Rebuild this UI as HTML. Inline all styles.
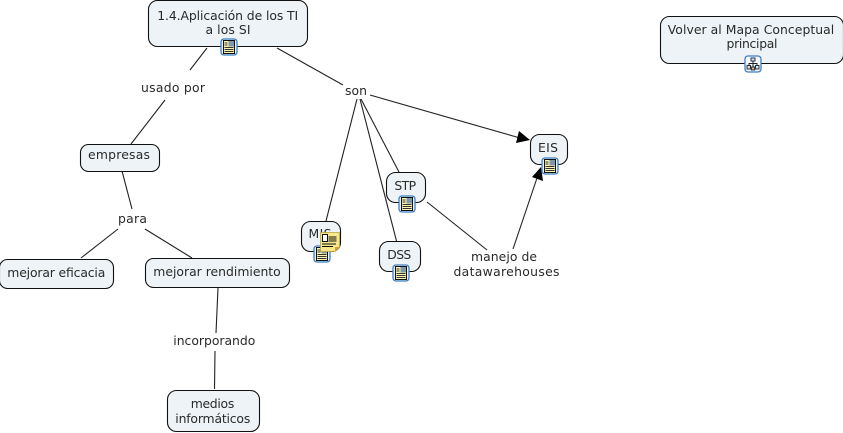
<!DOCTYPE html>
<html>
<head>
<meta charset="utf-8">
<style>
html,body{margin:0;padding:0;background:#fff;width:843px;height:433px;overflow:hidden}
svg{display:block}
text{font-family:"DejaVu Sans",sans-serif;font-size:12.400px;fill:#2a2a2a;text-anchor:middle}
.n{fill:#edf3f6;stroke:#111;stroke-width:1.1}
.l{stroke:#222;stroke-width:1.1;fill:none}
</style>
</head>
<body>
<svg width="843" height="433" viewBox="0 0 843 433" xmlns="http://www.w3.org/2000/svg">
<defs>
<g id="res">
<rect x="-8" y="-8" width="16" height="16" rx="3" fill="#eaf3fb" stroke="#3f7fc4" stroke-width="1.300"/>
<rect x="-5.500" y="-6.500" width="11" height="13" fill="#fff6b0" stroke="#111" stroke-width="1"/>
<rect x="-0.500" y="-6" width="5.500" height="5.500" fill="#7d98a8"/>
<path d="M-4.500-4h3M-4.500-2h3M-4.500 0.500h9M-4.500 2.500h9M-4.500 4.500h9" stroke="#333" stroke-width=".9"/>
</g>
<g id="map">
<rect x="-8" y="-8" width="16" height="16" rx="3" fill="#f4f9fd" stroke="#3f7fc4" stroke-width="1.300"/>
<path d="M0-3.500V3M-4 2V-0.500H4V2" stroke="#222" stroke-width="1" fill="none"/>
<rect x="-2" y="-6" width="4" height="3" fill="#dfe8f2" stroke="#123" stroke-width=".9"/>
<rect x="-6" y="1.500" width="3.500" height="3.500" fill="#e8d8c0" stroke="#123" stroke-width=".9"/>
<rect x="2.500" y="1.500" width="3.500" height="3.500" fill="#dfe8f2" stroke="#123" stroke-width=".9"/>
<rect x="-1.700" y="3" width="3.400" height="3" fill="#e0b080" stroke="#123" stroke-width=".9"/>
</g>
</defs>

<!-- connectors -->
<path class="l" d="M207 48 190 70"/>
<path class="l" d="M165 100 131 144"/>
<path class="l" d="M277 48 343 85"/>
<path class="l" d="M357 99 326 221"/>
<path class="l" d="M360 99 397 243"/>
<path class="l" d="M361 99 399 172"/>
<path class="l" d="M370 95 520 138"/>
<path class="l" d="M122 171 132 209"/>
<path class="l" d="M118 229 81 258"/>
<path class="l" d="M145 229 192 258"/>
<path class="l" d="M218 288 216 333"/>
<path class="l" d="M215 351 214.500 389"/>
<path class="l" d="M427 202 487 250"/>
<path class="l" d="M513 249 537 178"/>
<polygon points="530,140 516,143 519,131" fill="#000"/>
<polygon points="541,167 543,181 532,177" fill="#000"/>

<!-- nodes -->
<rect class="n" x="148.500" y="0.500" width="159" height="46" rx="9"/>
<rect class="n" x="660.500" y="16.500" width="183" height="47" rx="9"/>
<rect class="n" x="530.500" y="134.500" width="37" height="30" rx="9"/>
<rect class="n" x="386.500" y="172.500" width="39" height="30" rx="9"/>
<rect class="n" x="301.500" y="221.500" width="39" height="30" rx="9"/>
<rect class="n" x="379.500" y="241.500" width="41" height="30" rx="9"/>
<rect class="n" x="80.500" y="144.500" width="79" height="27" rx="8"/>
<rect class="n" x="-0.500" y="259.500" width="114" height="29" rx="8"/>
<rect class="n" x="145.500" y="258.500" width="144" height="29" rx="8"/>
<rect class="n" x="167.500" y="390.500" width="92" height="41" rx="9"/>

<!-- node text -->
<text x="227.700" y="20" textLength="141">1.4.Aplicación de los TI</text>
<text x="228" y="34" textLength="45">a los SI</text>
<text x="751" y="34" textLength="166.500">Volver al Mapa Conceptual</text>
<text x="752" y="48" textLength="51">principal</text>
<text x="548" y="152" textLength="20">EIS</text>
<text x="405.200" y="190" textLength="21.700">STP</text>
<text x="320" y="238" textLength="23">MIS</text>
<text x="399.300" y="259" textLength="24">DSS</text>
<text x="119" y="159" textLength="62">empresas</text>
<text x="56.300" y="277" textLength="98">mejorar eficacia</text>
<text x="217" y="276" textLength="127.500">mejorar rendimiento</text>
<text x="212.500" y="408" textLength="43.600">medios</text>
<text x="212.800" y="423" textLength="75">informáticos</text>

<!-- link labels -->
<text x="173" y="92" textLength="64">usado por</text>
<text x="356" y="95" textLength="22">son</text>
<text x="132.500" y="223" textLength="29">para</text>
<text x="214.300" y="345" textLength="82">incorporando</text>
<text x="504" y="261" textLength="66">manejo de</text>
<text x="506.500" y="276" textLength="106">datawarehouses</text>

<!-- icons -->
<use href="#res" x="229" y="47"/>
<use href="#map" x="753" y="64"/>
<use href="#res" x="550" y="166"/>
<use href="#res" x="407" y="204"/>
<use href="#res" x="401" y="273"/>
<use href="#res" x="322" y="254"/>
<g transform="translate(330,242)">
<path d="M-9.500-9.500H9.500V5L5 9.500H-9.500Z" fill="#f8e88a" stroke="#b8a040" stroke-width=".8"/>
<path d="M9.500 5 5 9.500V5Z" fill="#e0a030"/>
<path d="M-1.500-5h8M-1.500-3h8M-1.500-1h8M-8 2h14M-8 4.500h11" stroke="#111" stroke-width="1.100"/>
<rect x="-7.500" y="-7.500" width="5" height="7" fill="#fff" stroke="#111" stroke-width="1"/>
</g>
</svg>
</body>
</html>
